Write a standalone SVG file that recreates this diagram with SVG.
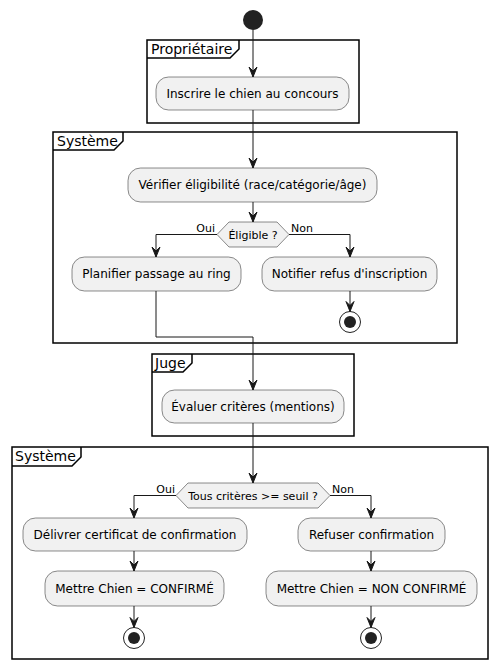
<svg xmlns="http://www.w3.org/2000/svg" width="498" height="669" viewBox="0 0 498 669">
<style>
text{font-family:"DejaVu Sans","Liberation Sans",sans-serif;fill:#000}
.act rect{fill:#F1F1F1;stroke:#181818;stroke-width:0.5}
.act text{font-size:12px;text-anchor:middle}
.frame rect{fill:none;stroke:#000;stroke-width:1.5}
.frame path{fill:none;stroke:#000;stroke-width:1.5}
.frame text{font-size:14px}
.dec polygon{fill:#F1F1F1;stroke:#181818;stroke-width:0.5}
.dec text{font-size:11px;text-anchor:middle}
.lbl{font-size:11px}
#connectors path{fill:none;stroke:#181818;stroke-width:1}
.end circle.o{fill:none;stroke:#222;stroke-width:1}
.end circle.i{fill:#222}
</style>
<defs>
<marker id="ah" markerWidth="14" markerHeight="12" viewBox="-12 -6 14 12" refX="0" refY="0" orient="auto" markerUnits="userSpaceOnUse">
<polygon points="-10,-4 0,0 -10,4 -6,0" fill="#181818" stroke="#181818" stroke-width="1" stroke-linejoin="miter"/>
</marker>
</defs>
<g id="frame-proprietaire" class="frame">
<rect x="147" y="40" width="212" height="83"/>
<path d="M147,58 L230,58 L239,49 L239,40"/>
<text x="151" y="54">Propriétaire</text>
</g>
<g id="frame-systeme1" class="frame">
<rect x="53" y="132" width="404" height="211"/>
<path d="M53,150 L114,150 L123,141 L123,132"/>
<text x="57" y="146">Système</text>
</g>
<g id="frame-juge" class="frame">
<rect x="152" y="354" width="202" height="82"/>
<path d="M152,372 L183,372 L192,363 L192,354"/>
<text x="155" y="368">Juge</text>
</g>
<g id="frame-systeme2" class="frame">
<rect x="12" y="447" width="476" height="212"/>
<path d="M12,466 L72,466 L81,457 L81,447"/>
<text x="15" y="461">Système</text>
</g>
<g id="start"><circle cx="253" cy="20" r="10" fill="#222"/></g>
<g id="inscrire" class="act"><rect x="156" y="77" width="193" height="33" rx="12.5"/><text x="252.5" y="98">Inscrire le chien au concours</text></g>
<g id="verifier" class="act"><rect x="128" y="168" width="249" height="34" rx="12.5"/><text x="252.5" y="189">Vérifier éligibilité (race/catégorie/âge)</text></g>
<g id="eligible" class="dec"><polygon points="217,234.5 229,222 277,222 289,234.5 277,247 229,247"/><text x="253" y="239">Éligible ?</text></g>
<g id="planifier" class="act"><rect x="72" y="257" width="169" height="34" rx="12.5"/><text x="156.5" y="278">Planifier passage au ring</text></g>
<g id="notifier" class="act"><rect x="262" y="257" width="175" height="34" rx="12.5"/><text x="349.5" y="278">Notifier refus d'inscription</text></g>
<g id="end1" class="end"><circle class="o" cx="350" cy="322" r="10.5"/><circle class="i" cx="350" cy="322" r="6"/></g>
<g id="evaluer" class="act"><rect x="162" y="390" width="182" height="33" rx="12.5"/><text x="253" y="411">Évaluer critères (mentions)</text></g>
<g id="criteres" class="dec"><polygon points="176,495.5 188,483 318,483 330,495.5 318,508 188,508"/><text x="253" y="500">Tous critères &gt;= seuil ?</text></g>
<g id="delivrer" class="act"><rect x="23" y="518" width="224" height="33" rx="12.5"/><text x="135" y="539">Délivrer certificat de confirmation</text></g>
<g id="confirme" class="act"><rect x="45" y="571" width="179" height="35" rx="12.5"/><text x="134.5" y="593">Mettre Chien = CONFIRMÉ</text></g>
<g id="end2" class="end"><circle class="o" cx="134" cy="638" r="10.5"/><circle class="i" cx="134" cy="638" r="6"/></g>
<g id="refuser" class="act"><rect x="298" y="518" width="147" height="33" rx="12.5"/><text x="371.5" y="539">Refuser confirmation</text></g>
<g id="nonconfirme" class="act"><rect x="266" y="571" width="211" height="35" rx="12.5"/><text x="371.5" y="593">Mettre Chien = NON CONFIRMÉ</text></g>
<g id="end3" class="end"><circle class="o" cx="371" cy="638" r="10.5"/><circle class="i" cx="371" cy="638" r="6"/></g>
<g id="connectors">
<path d="M253,30 L253,77" marker-end="url(#ah)"/>
<path d="M253,110 L253,168" marker-end="url(#ah)"/>
<path d="M253,202 L253,222" marker-end="url(#ah)"/>
<path d="M217,234.5 L156,234.5 L156,257" marker-end="url(#ah)"/>
<path d="M289,234.5 L350,234.5 L350,257" marker-end="url(#ah)"/>
<path d="M350,291 L350,311.5" marker-end="url(#ah)"/>
<path d="M156,291 L156,337 L253,337 L253,390" marker-end="url(#ah)"/>
<path d="M253,423 L253,483" marker-end="url(#ah)"/>
<path d="M176,495.5 L134,495.5 L134,518" marker-end="url(#ah)"/>
<path d="M330,495.5 L371,495.5 L371,518" marker-end="url(#ah)"/>
<path d="M134,551 L134,571" marker-end="url(#ah)"/>
<path d="M371,551 L371,571" marker-end="url(#ah)"/>
<path d="M134,606 L134,627.5" marker-end="url(#ah)"/>
<path d="M371,606 L371,627.5" marker-end="url(#ah)"/>
<text class="lbl" x="215" y="232" text-anchor="end">Oui</text>
<text class="lbl" x="291" y="232">Non</text>
<text class="lbl" x="175" y="493" text-anchor="end">Oui</text>
<text class="lbl" x="332" y="493">Non</text>
</g>
</svg>
